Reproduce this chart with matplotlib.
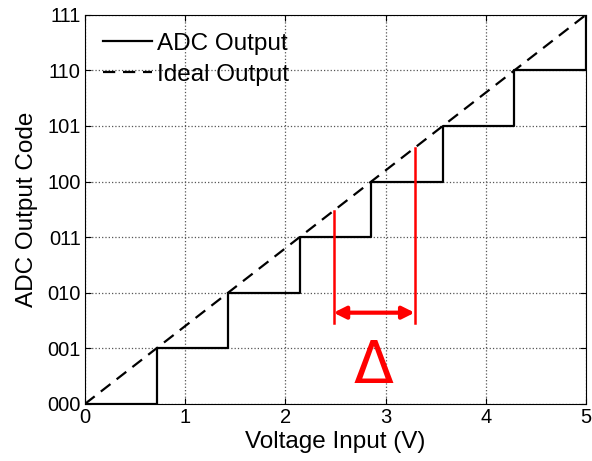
import matplotlib
matplotlib.use("Agg")
import matplotlib.pyplot as plt
import numpy as np

plt.rcParams['font.family'] = ['Liberation Sans', 'DejaVu Sans']

# ADC transfer data
step_v = [0, 0.714, 1.429, 2.143, 2.857, 3.571, 4.286, 5.0]
codes = [0, 1, 2, 3, 4, 5, 6, 7]
ideal_v = [0, 5]
ideal_code = [0, 7]
code_labels = ['000', '001', '010', '011', '100', '101', '110', '111']

# quantization width marker
delta_left = 2.48
delta_right = 3.29
delta_bottom = 1.46
arrow_y = 1.64

fig = plt.figure(figsize=(5.92, 4.61), dpi=100)
ax = fig.add_axes([0.1436, 0.124, 0.8463, 0.844])

ax.step(step_v, codes, where='post', color='black', lw=1.6, label='ADC Output')
ax.plot(ideal_v, ideal_code, '--', color='black', lw=1.6, dashes=(5.5, 3.5), label='Ideal Output')

for xv in (delta_left, delta_right):
    ax.plot([xv, xv], [delta_bottom, xv * 7 / 5], color='red', lw=1.8)
ax.annotate('', xy=(delta_left, arrow_y), xytext=(delta_right, arrow_y),
            arrowprops=dict(arrowstyle='<|-|>', color='red', lw=3, mutation_scale=18,
                            shrinkA=0, shrinkB=0))
ax.text(2.88, 0.68, 'Δ', color='red', fontsize=42, ha='center', va='center',
        family='DejaVu Sans')

ax.set_xlim(0, 5)
ax.set_ylim(0, 7)
ax.set_xticks([0, 1, 2, 3, 4, 5])
ax.set_yticks(codes)
ax.set_yticklabels(code_labels)
ax.tick_params(direction='in', top=True, right=True, labelsize=14.5, length=4, pad=3)
ax.grid(True, linestyle=':', color='#555555', lw=0.9)
ax.set_xlabel('Voltage Input (V)', fontsize=17.5, labelpad=3)
ax.set_ylabel('ADC Output Code', fontsize=17.5, labelpad=7)

ax.legend(loc='upper left', frameon=False, fontsize=17.5, handlelength=2.0,
          handletextpad=0.2, borderaxespad=0.35, labelspacing=0.35)

fig.savefig('out.png', dpi=100)
